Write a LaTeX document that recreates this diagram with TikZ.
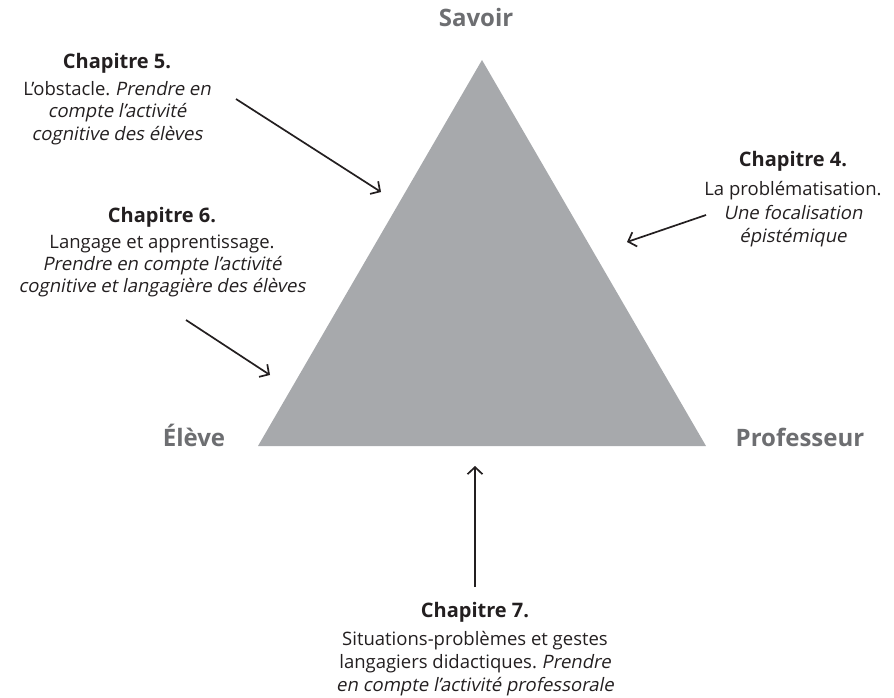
\documentclass[tikz,border=0pt]{standalone}
\usepackage{fontspec}
\setmainfont{Open Sans}
\newfontfamily\oblfont{Open Sans}[FakeSlant=0.2]
\newcommand\oblq[1]{{\oblfont #1}}
\frenchspacing
\usetikzlibrary{arrows.meta}
\definecolor{trigray}{HTML}{A7A9AC}
\definecolor{labgray}{HTML}{6D6E71}
\definecolor{txt}{HTML}{231F20}
\begin{document}
\begin{tikzpicture}[x=1pt,y=-1pt,
  corner/.style={font=\fontsize{24}{28}\selectfont\bfseries, text=labgray, anchor=base, inner sep=0pt},
  head/.style={font=\fontsize{20}{24}\selectfont\bfseries, text=txt, anchor=base, inner sep=0pt},
  body/.style={font=\fontsize{18.5}{22}\selectfont, text=txt, anchor=base, inner sep=0pt},
  arr/.style={draw=txt, line width=1.7pt, -{Straight Barb[length=7pt,width=15pt,line width=1.7pt]}}]
\useasboundingbox (0,0) rectangle (894,698);
% triangle
\coordinate (S) at (482,60);
\coordinate (E) at (258,446);
\coordinate (P) at (706,446);
\fill[trigray] (S) -- (E) -- (P) -- cycle;
% corner labels
\node[corner] (savoir) at (476,27) {Savoir};
\node[corner] (eleve) at (194,446) {Élève};
\node[corner] (prof) at (800,446) {Professeur};
% Chapitre 5
\node[head] (c5h) at (117,69) {Chapitre 5.};
\node[body] (c5a) at (117,96) {L’obstacle. \oblq{Prendre en}};
\node[body] (c5b) at (117,118) {\oblq{compte l’activité}};
\node[body] (c5c) at (117,140) {\oblq{cognitive des élèves}};
% Chapitre 6
\node[head] (c6h) at (162,222) {Chapitre 6.};
\node[body] (c6a) at (162,248) {Langage et apprentissage.};
\node[body] (c6b) at (162,270) {\oblq{Prendre en compte l’activité}};
\node[body] (c6c) at (162,292) {\oblq{cognitive et langagière des élèves}};
% Chapitre 4
\node[head] (c4h) at (793,167) {Chapitre 4.};
\node[body] (c4a) at (793,195) {La problématisation.};
\node[body] (c4b) at (793,219) {\oblq{Une focalisation}};
\node[body] (c4c) at (793,242) {\oblq{épistémique}};
% Chapitre 7
\node[head] (c7h) at (475,617) {Chapitre 7.};
\node[body] (c7a) at (475,645) {Situations-problèmes et gestes};
\node[body] (c7b) at (475,668) {langagiers didactiques. \oblq{Prendre}};
\node[body] (c7c) at (475,691) {\oblq{en compte l’activité professorale}};
% arrows
\coordinate (a5s) at (236,99);  \coordinate (a5e) at (381,192);
\coordinate (a6s) at (186,320); \coordinate (a6e) at (270,375);
\coordinate (a4s) at (706,215); \coordinate (a4e) at (627,242);
\coordinate (a7s) at (475,587); \coordinate (a7e) at (475,466);
\draw[arr] (a5s) -- (a5e);
\draw[arr] (a6s) -- (a6e);
\draw[arr] (a4s) -- (a4e);
\draw[arr] (a7s) -- (a7e);
\end{tikzpicture}
\end{document}
